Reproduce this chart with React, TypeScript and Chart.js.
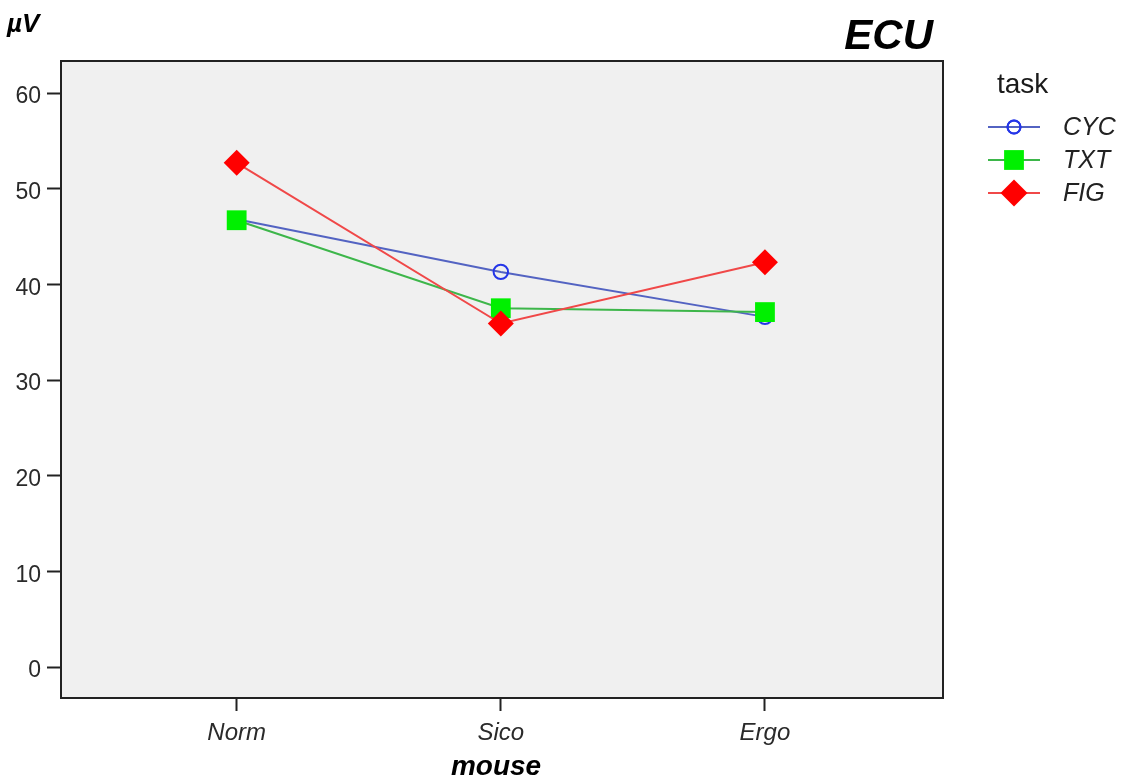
import { useEffect, useRef } from "react";
import { Chart, registerables } from "chart.js";
import { drawPoint } from "chart.js/helpers";

Chart.register(...registerables);

// Categories on the x axis (mouse type)
const categories = ["Norm", "Sico", "Ergo"];

// Mean ECU activity (µV) per task
const cycValues = [46.8, 41.3, 36.6];
const txtValues = [46.7, 37.5, 37.1];
const figValues = [52.7, 35.9, 42.3];

const yTickValues = [0, 10, 20, 30, 40, 50, 60];

const FONT = "'Liberation Sans', Arial, Helvetica, sans-serif";

type SeriesStyle = {
  label: string;
  data: number[];
  line: string;
  pointStyle: "circle" | "rect" | "rectRot";
  radius: number;
  legendRadius: number;
  fill: string;
  stroke: string;
  strokeWidth: number;
  order: number;
};

const series: SeriesStyle[] = [
  { label: "CYC", data: cycValues, line: "#5363c2", pointStyle: "circle", radius: 7.2, legendRadius: 6.5, fill: "rgba(0,0,0,0)", stroke: "#2536e8", strokeWidth: 2, order: 2 },
  { label: "TXT", data: txtValues, line: "#3db64a", pointStyle: "rect", radius: 14, legendRadius: 14, fill: "#00f000", stroke: "#00f000", strokeWidth: 0, order: 1 },
  { label: "FIG", data: figValues, line: "#f04848", pointStyle: "rectRot", radius: 13, legendRadius: 13.5, fill: "#ff0000", stroke: "#ff0000", strokeWidth: 0, order: 0 },
];

// Grey plot panel with a dark frame
const panelPlugin = {
  id: "panel",
  beforeDatasetsDraw(chart: any) {
    const { ctx, chartArea: a } = chart;
    ctx.save();
    ctx.fillStyle = "#f0f0f0";
    ctx.fillRect(a.left, a.top, a.right - a.left, a.bottom - a.top);
    ctx.strokeStyle = "#222";
    ctx.lineWidth = 2;
    ctx.strokeRect(a.left, a.top, a.right - a.left, a.bottom - a.top);
    ctx.restore();
  },
};

// Unit label, title, axis title and the task legend
const annotationsPlugin = {
  id: "annotations",
  afterDraw(chart: any) {
    const { ctx, chartArea: a } = chart;
    ctx.save();
    ctx.fillStyle = "#000";
    ctx.textBaseline = "alphabetic";

    ctx.font = `italic bold 26px ${FONT}`;
    ctx.textAlign = "left";
    ctx.fillText("µV", 7, 32);

    ctx.font = `italic bold 42px ${FONT}`;
    ctx.textAlign = "right";
    ctx.fillText("ECU", 933, 49);

    ctx.font = `italic bold 28px ${FONT}`;
    ctx.textAlign = "center";
    ctx.fillText("mouse", (a.left + a.right) / 2 - 6, 775);

    ctx.font = `28px ${FONT}`;
    ctx.textAlign = "left";
    ctx.fillStyle = "#1a1a1a";
    ctx.fillText("task", 997, 93);

    series.forEach((s, i) => {
      const y = 127 + i * 33;
      ctx.strokeStyle = s.line;
      ctx.lineWidth = 2;
      ctx.beginPath();
      ctx.moveTo(988, y);
      ctx.lineTo(1040, y);
      ctx.stroke();
      ctx.fillStyle = s.fill;
      ctx.strokeStyle = s.stroke;
      ctx.lineWidth = s.strokeWidth;
      drawPoint(ctx, { pointStyle: s.pointStyle, radius: s.legendRadius, rotation: 0, borderWidth: s.strokeWidth }, 1014, y);
      if (s.strokeWidth > 0) ctx.stroke();
      ctx.fillStyle = "#222";
      ctx.font = `italic 25px ${FONT}`;
      ctx.textBaseline = "middle";
      ctx.fillText(s.label, 1063, y + 1);
      ctx.textBaseline = "alphabetic";
    });
    ctx.restore();
  },
};

export default function App() {
  const canvasRef = useRef<HTMLCanvasElement | null>(null);

  useEffect(() => {
    const canvas = canvasRef.current;
    if (!canvas) return;
    const chart = new Chart(canvas, {
      type: "line",
      data: {
        datasets: series.map((s) => ({
          label: s.label,
          data: s.data.map((v, i) => ({ x: i, y: v })),
          borderColor: s.line,
          borderWidth: 2,
          pointStyle: s.pointStyle,
          pointRadius: s.radius,
          pointBackgroundColor: s.fill,
          pointBorderColor: s.stroke,
          pointBorderWidth: s.strokeWidth,
          tension: 0,
          fill: false,
          order: s.order,
          clip: false as any,
        })),
      },
      options: {
        responsive: false,
        animation: false,
        events: [],
        layout: { padding: { left: 0, top: 61, right: 186, bottom: 0 } },
        plugins: { legend: { display: false }, tooltip: { enabled: false }, title: { display: false } },
        scales: {
          x: {
            type: "linear",
            min: -0.665,
            max: 2.674,
            afterFit: (scale: any) => { scale.height = 80; },
            afterBuildTicks: (scale: any) => { scale.ticks = categories.map((_, i) => ({ value: i })); },
            border: { display: false },
            grid: { display: true, drawOnChartArea: false, drawTicks: true, tickLength: 13, tickColor: "#222", tickWidth: 2 },
            ticks: {
              padding: 8,
              color: "#2a2a2a",
              font: { family: FONT, size: 24, style: "italic" },
              callback: (v: any) => categories[Number(v)] ?? "",
              maxRotation: 0,
            },
          },
          y: {
            type: "linear",
            min: -3.24,
            max: 63.345,
            afterFit: (scale: any) => { scale.width = 61; },
            afterBuildTicks: (scale: any) => { scale.ticks = yTickValues.map((v) => ({ value: v })); },
            border: { display: false },
            grid: { display: true, drawOnChartArea: false, drawTicks: true, tickLength: 14, tickColor: "#222", tickWidth: 2 },
            ticks: {
              padding: 6,
              labelOffset: 4,
              color: "#2a2a2a",
              font: { family: FONT, size: 23 },
            },
          },
        },
      },
      plugins: [panelPlugin, annotationsPlugin],
    });
    return () => chart.destroy();
  }, []);

  return (
    <div style={{ position: "absolute", left: 0, top: 0, width: 1129, height: 778, background: "#fff" }}>
      <canvas ref={canvasRef} width={1129} height={778} />
    </div>
  );
}
